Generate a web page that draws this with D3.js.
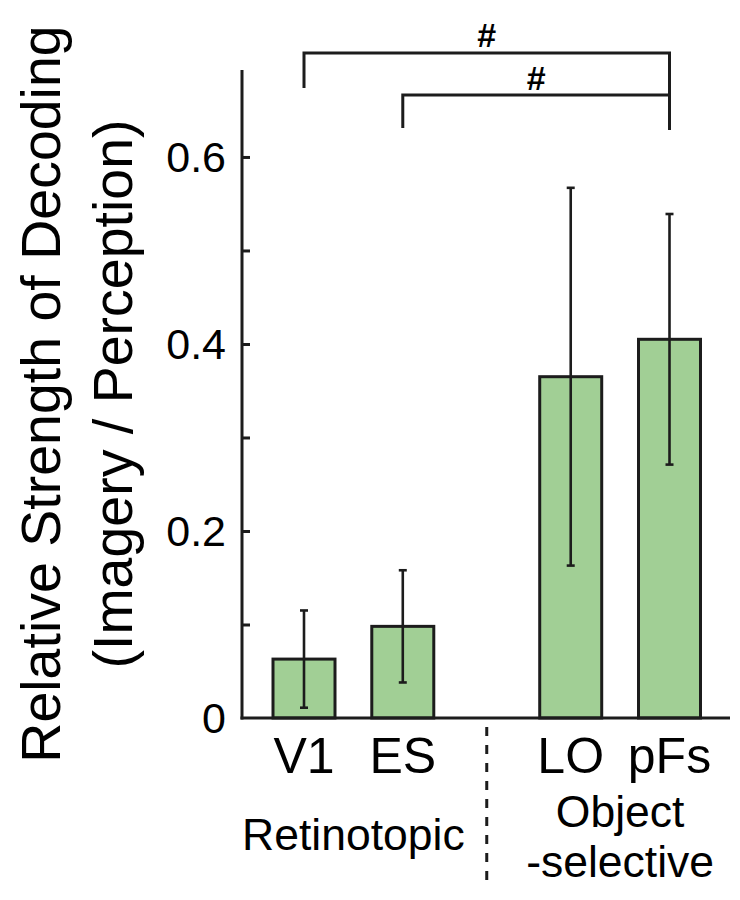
<!DOCTYPE html>
<html>
<head>
<meta charset="utf-8">
<script src="https://cdn.jsdelivr.net/npm/d3@7"></script>
<style>
  html, body { margin: 0; padding: 0; background: #ffffff; }
  svg { display: block; }
  text { font-family: "Liberation Sans", Arial, Helvetica, sans-serif; fill: #000; }
</style>
</head>
<body>
<script>
// ---- data ----
const categories = ["V1", "ES", "LO", "pFs"];
const groupOfCategory = [0, 0, 1, 1];
const groupLabels = [["Retinotopic"], ["Object", "-selective"]];
const means = [0.063, 0.098, 0.365, 0.405];
const errors = [0.052, 0.060, 0.202, 0.134];
const yTickValues = [0.1, 0.2, 0.3, 0.4, 0.5, 0.6];
const yTickLabels = ["", "0.2", "", "0.4", "", "0.6"];
const comparisons = [
  { from: "V1", to: "pFs", label: "#" },
  { from: "ES", to: "pFs", label: "#" }
];
const yTitleLines = ["Relative Strength of Decoding", "(Imagery / Perception)"];

// ---- layout ----
const W = 740, H = 900;
const axisX = 242, baseY = 718, topY = 70, rightX = 730;
const groupGap = 0.7;
const slot = i => i + groupOfCategory[i] * groupGap;

const svg = d3.select("body").append("svg").attr("width", W).attr("height", H);

const y = d3.scaleLinear().domain([0, 0.693]).range([baseY, topY]);
const x = d3.scaleLinear().domain([0, slot(3)]).range([304, 669.5]);
const barW = 62;
const ink = "#1c1c1c";

// bars
svg.append("g").selectAll("rect").data(categories).join("rect")
  .attr("x", (d, i) => x(slot(i)) - barW / 2)
  .attr("y", (d, i) => y(means[i]))
  .attr("width", barW)
  .attr("height", (d, i) => y(0) - y(means[i]))
  .attr("fill", "#a1cf95")
  .attr("stroke", ink)
  .attr("stroke-width", 3);

// error bars
const eg = svg.append("g").attr("stroke", ink).attr("stroke-width", 2.6);
categories.forEach((c, i) => {
  const cx = x(slot(i));
  const hi = y(means[i] + errors[i]), lo = y(means[i] - errors[i]);
  eg.append("line").attr("x1", cx).attr("x2", cx).attr("y1", hi).attr("y2", lo);
  eg.append("line").attr("x1", cx - 4).attr("x2", cx + 4).attr("y1", hi).attr("y2", hi);
  eg.append("line").attr("x1", cx - 4).attr("x2", cx + 4).attr("y1", lo).attr("y2", lo);
});

// y axis with inward ticks
const yAxis = d3.axisRight(y).tickValues(yTickValues).tickSize(8).tickFormat("");
const ag = svg.append("g").attr("transform", `translate(${axisX},0)`).call(yAxis);
ag.select(".domain").remove();
ag.selectAll(".tick line").attr("stroke", ink).attr("stroke-width", 3);
svg.append("line").attr("x1", axisX).attr("x2", axisX).attr("y1", topY).attr("y2", baseY + 1.5)
  .attr("stroke", ink).attr("stroke-width", 3);
// tick labels
const labelVals = [0].concat(yTickValues);
const labelTxt = ["0"].concat(yTickLabels);
svg.append("g").selectAll("text").data(labelVals).join("text")
  .attr("x", axisX - 16)
  .attr("y", d => y(d))
  .attr("dy", "0.358em")
  .attr("text-anchor", "end")
  .attr("font-size", 43)
  .text((d, i) => labelTxt[i]);

// x baseline
svg.append("line").attr("x1", axisX - 1.5).attr("x2", rightX).attr("y1", baseY).attr("y2", baseY)
  .attr("stroke", ink).attr("stroke-width", 3);

// category labels
svg.append("g").selectAll("text").data(categories).join("text")
  .attr("x", (d, i) => x(slot(i)))
  .attr("y", 773)
  .attr("text-anchor", "middle")
  .attr("font-size", 50)
  .text(d => d);

// group labels
const groupCenters = groupLabels.map((g, gi) => {
  const idx = categories.map((c, i) => i).filter(i => groupOfCategory[i] === gi);
  return d3.mean(idx, i => x(slot(i)));
});
groupLabels.forEach((lines, gi) => {
  const y0 = lines.length === 1 ? 850 : 827;
  lines.forEach((t, li) => {
    svg.append("text")
      .attr("x", groupCenters[gi])
      .attr("y", y0 + li * 50)
      .attr("text-anchor", "middle")
      .attr("font-size", 44.5)
      .text(t);
  });
});

// dashed divider between groups
const divX = (x(slot(1)) + x(slot(2))) / 2;
svg.append("line").attr("x1", divX).attr("x2", divX).attr("y1", 727).attr("y2", 882)
  .attr("stroke", ink).attr("stroke-width", 3).attr("stroke-dasharray", "9,9");

// significance brackets
const bracketLayout = [
  { yLine: 53, yLeft: 88, yRight: 130, yText: 47 },
  { yLine: 95, yLeft: 128, yRight: 130, yText: 90 }
];
const bg = svg.append("g");
comparisons.forEach((c, k) => {
  const L = bracketLayout[k];
  const x1 = x(slot(categories.indexOf(c.from)));
  const x2 = x(slot(categories.indexOf(c.to)));
  bg.append("path")
    .attr("d", `M${x1},${L.yLeft}V${L.yLine}H${x2}V${L.yRight}`)
    .attr("fill", "none").attr("stroke", ink).attr("stroke-width", 3);
  bg.append("text")
    .attr("x", (x1 + x2) / 2)
    .attr("y", L.yText)
    .attr("text-anchor", "middle")
    .attr("font-size", 34)
    .attr("font-weight", "bold")
    .text(c.label);
});

// y title
const titleCenter = (topY + baseY) / 2;
const titleBaselines = [60, 132];
yTitleLines.forEach((t, i) => {
  svg.append("text")
    .attr("transform", `translate(${titleBaselines[i]},${titleCenter}) rotate(-90)`)
    .attr("text-anchor", "middle")
    .attr("font-size", 55.5)
    .text(t);
});
</script>
</body>
</html>
